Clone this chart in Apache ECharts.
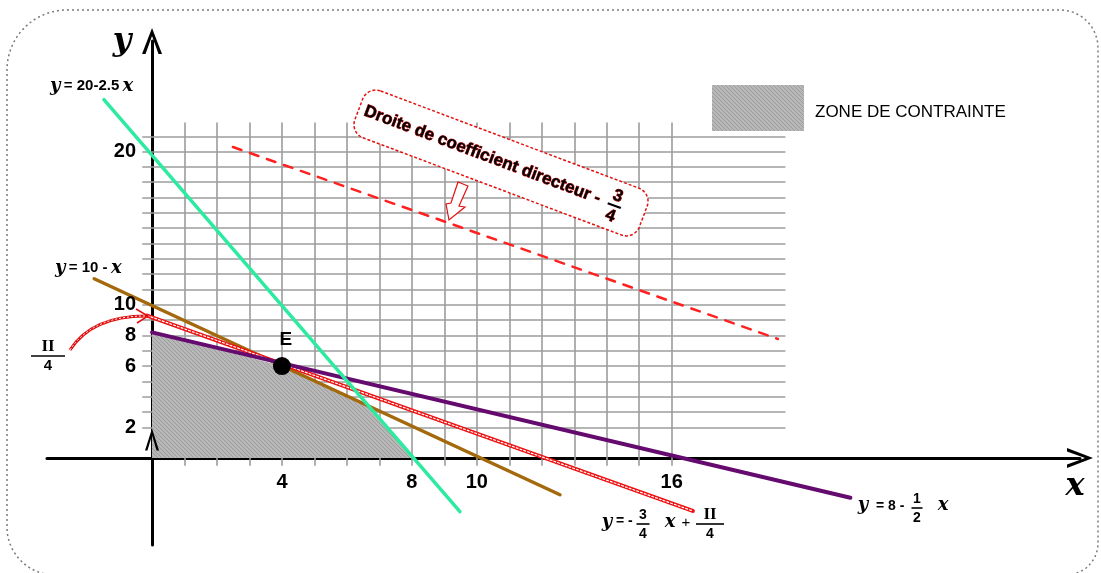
<!DOCTYPE html>
<html>
<head>
<meta charset="utf-8">
<title>Zone de contrainte</title>
<script src="https://cdn.jsdelivr.net/npm/echarts@6/dist/echarts.min.js"></script>
<style>
    html, body { margin: 0; padding: 0; background: #fff; }
    .box1 { width: 1101px; height: 573px; }
</style>
</head>
<body>
<div class="box1"></div>
<script>
// ---------- data ----------
var xTicks = [4, 8, 10, 16];
var yTicks = [20, 10, 8, 6, 2];
var gridXs = [1, 2, 3, 4, 5, 6, 7, 8, 9, 10, 11, 12, 13, 14, 15, 16];
var gridYs = [2, 3, 4, 5, 6, 7, 8, 9, 10, 11, 12, 13, 14, 15, 16, 17, 18, 19, 20, 21];

// segments as drawn (start, end)
var lineGreen = [[-1.48, 23.4], [9.48, -3.5]];    // y = 20 - 2.5x
var lineBrown = [[-1.78, 11.7], [12.56, -2.4]];   // y = 10 - x
var linePurple = [[0, 8.2], [21.5, -2.6]];        // y = 8 - x/2
var lineRed = [[-0.15, 9.3], [16.65, -3.46]];     // y = -3/4 x + II/4
var lineDashed = [[2.49, 20.3], [19.27, 7.77]];   // droite de coefficient -3/4
var zone = [[0, 8.2], [4, 6], [6.67, 3.33], [8, 0]];
var pointE = [[4, 6]];
var smallArrow = [[0, 1.2]];

// ---------- axes extent ----------
var X_MIN = -3.233, X_MAX = 28.57;
var Y_MIN = -5.68, Y_MAX = 27.22;
var GRID_TOP = 21.9, GRID_BOTTOM = -0.5, GRID_LEFT = -0.3, GRID_RIGHT = 19.5;

// hatch pattern for the zone
var pat = document.createElement('canvas');
pat.width = 4; pat.height = 4;
var pc = pat.getContext('2d');
pc.fillStyle = '#b8b8b8';
pc.fillRect(0, 0, 4, 4);
pc.strokeStyle = '#9c9c9c';
pc.lineWidth = 1;
pc.beginPath(); pc.moveTo(0, 0); pc.lineTo(4, 4); pc.stroke();
pc.beginPath(); pc.moveTo(3, -1); pc.lineTo(5, 1); pc.stroke();
pc.beginPath(); pc.moveTo(-1, 3); pc.lineTo(1, 5); pc.stroke();
var hatch = { image: pat, repeat: 'repeat' };

var chevron = 'path://M0,26 L10,0 L20,26 L16.5,26 L10,8 L3.5,26 Z';

var SANS = '"Liberation Sans", Arial, sans-serif';
var SERIF = '"DejaVu Serif", "Liberation Serif", serif';

// helpers for the graphic texts
function txt(x, y, s, font, align) {
    return {
        type: 'text', x: x, y: y, z: 100,
        style: { text: s, font: font, fill: '#000', align: align || 'left', verticalAlign: 'middle' }
    };
}
function frac(cx, cy, num, den, font, w, numFont) {
    return [
        txt(cx, cy - 9, num, numFont || font, 'center'),
        { type: 'line', z: 100, shape: { x1: cx - w / 2, y1: cy, x2: cx + w / 2, y2: cy }, style: { stroke: '#000', lineWidth: 1.6 } },
        txt(cx, cy + 10, den, font, 'center')
    ];
}

var box1 = document.getElementsByClassName('box1')[0];
var MyEcharts1 = echarts.init(box1);

var mathFont = 'italic bold 18px ' + SERIF;
var smallBold = 'bold 13px ' + SANS;
var romanFont = 'bold 17px "Liberation Serif", serif';
var calloutText = {
    font: 'bold 17px ' + SANS, fill: '#000', stroke: '#d00000', lineWidth: 0.8,
    verticalAlign: 'middle'
};

var graphics = [
    // dotted outer frame
    {
        type: 'rect', z: -1,
        shape: { x: 7, y: 10, width: 1091, height: 565, r: [60, 38, 32, 48] },
        style: { fill: 'none', stroke: '#7a7a7a', lineWidth: 1.5, lineDash: [2, 3] }
    },
    // legend
    { type: 'rect', z: 100, shape: { x: 712, y: 85, width: 92, height: 46 }, style: { fill: hatch } },
    txt(815, 112, 'ZONE DE CONTRAINTE', '17px ' + SANS),
    // axis letters
    txt(122, 42, 'y', 'italic bold 32px ' + SERIF, 'center'),
    txt(1075, 487, 'x', 'italic bold 32px ' + SERIF, 'center'),
    // line labels
    {
        type: 'text', x: 50, y: 86, z: 100,
        style: {
            text: '{v|y} {b|= 20-2.5} {v|x}', verticalAlign: 'middle', fill: '#000',
            rich: { v: { font: mathFont, fill: '#000' }, b: { font: 'bold 15px ' + SANS, fill: '#000' } }
        }
    },
    {
        type: 'text', x: 55, y: 268, z: 100,
        style: {
            text: '{v|y} {b|= 10 -} {v|x}', verticalAlign: 'middle', fill: '#000',
            rich: { v: { font: mathFont, fill: '#000' }, b: { font: 'bold 15px ' + SANS, fill: '#000' } }
        }
    },
    txt(863, 505, 'y', mathFont, 'center'),
    txt(876, 506, '= 8 -', 'bold 14px ' + SANS),
    txt(943, 505, 'x', mathFont, 'center'),
    txt(607, 522, 'y', mathFont, 'center'),
    txt(616, 521, '= -', 'bold 14px ' + SANS),
    txt(670, 522, 'x', mathFont, 'center'),
    txt(686, 523, '+', '15px ' + SANS, 'center'),
    // red curved arrow to the y intercept
    {
        type: 'bezierCurve', z: 100,
        shape: { x1: 70, y1: 350, cpx1: 92, cpy1: 316, x2: 146, y2: 316 },
        style: { stroke: '#e41010', lineWidth: 3, fill: 'none' }
    },
    {
        type: 'bezierCurve', z: 101,
        shape: { x1: 70, y1: 350, cpx1: 92, cpy1: 316, x2: 146, y2: 316 },
        style: { stroke: '#fff', lineWidth: 1, lineDash: [2, 2], fill: 'none' }
    },
    {
        type: 'polyline', z: 100,
        shape: { points: [[136, 309], [148, 316], [137, 323]] },
        style: { stroke: '#e41010', lineWidth: 1.5, fill: 'none' }
    },
    // callout pointer
    {
        type: 'polygon', z: 101,
        shape: { points: [[458, 182], [451, 203], [446, 204], [449, 220], [465, 207], [459, 206], [468, 186]] },
        style: { fill: '#fff', stroke: '#e41010', lineWidth: 1.2 }
    },
    // callout box
    {
        type: 'group', x: 501, y: 163, rotation: -0.36, z: 100,
        children: [
            {
                type: 'rect', z: 100,
                shape: { x: -152, y: -25, width: 304, height: 50, r: 14 },
                style: { fill: '#fff', stroke: '#e41010', lineWidth: 1.5, lineDash: [3, 2] }
            },
            { type: 'text', x: -146, y: -1, z: 102, style: Object.assign({ text: 'Droite de coefficient directeur -' }, calloutText) },
            { type: 'text', x: 121, y: -10, z: 102, style: Object.assign({ text: '3', align: 'center' }, calloutText) },
            { type: 'line', z: 102, shape: { x1: 114, y1: 0, x2: 128, y2: 0 }, style: { stroke: '#000', lineWidth: 2.2 } },
            { type: 'text', x: 121, y: 11, z: 102, style: Object.assign({ text: '4', align: 'center' }, calloutText) }
        ]
    }
];
graphics = graphics
    .concat(frac(917, 508, '1', '2', 'bold 14px ' + SANS, 11))
    .concat(frac(643, 524, '3', '4', 'bold 14px ' + SANS, 13))
    .concat(frac(710, 524, 'II', '4', 'bold 14px ' + SANS, 28, romanFont))
    .concat(frac(48, 356, 'II', '4', 'bold 15px ' + SANS, 34, romanFont));

function seg(data, color, width, z, dash) {
    return {
        type: 'line', data: data, symbol: 'none', clip: false, z: z, silent: true,
        lineStyle: { color: color, width: width, type: dash || 'solid', cap: 'round' }
    };
}

var tickLabel = { fontSize: 20, fontWeight: 'bold', fontFamily: SANS, color: '#000' };

var option1 = {
    animation: false,
    backgroundColor: '#fff',
    grid: { left: 47, right: 21, top: 41, bottom: 28 },
    xAxis: {
        type: 'value', min: X_MIN, max: X_MAX,
        axisLine: { onZero: true, symbol: ['none', chevron], symbolSize: [20, 26], lineStyle: { color: '#000', width: 3 } },
        axisTick: { show: false }, axisLabel: { show: false }, splitLine: { show: false }
    },
    yAxis: {
        type: 'value', min: Y_MIN, max: Y_MAX,
        axisLine: { onZero: true, symbol: ['none', chevron], symbolSize: [20, 26], lineStyle: { color: '#000', width: 3 } },
        axisTick: { show: false }, axisLabel: { show: false }, splitLine: { show: false }
    },
    graphic: graphics,
    series: [
        // grid
        {
            type: 'lines', coordinateSystem: 'cartesian2d', z: 1, silent: true,
            lineStyle: { color: '#9c9c9c', width: 1.6, opacity: 1, curveness: 0 },
            data: gridXs.map(function (x) { return { coords: [[x, GRID_BOTTOM], [x, GRID_TOP]] }; })
        },
        {
            type: 'lines', coordinateSystem: 'cartesian2d', z: 1, silent: true,
            lineStyle: { color: '#9c9c9c', width: 1.6, opacity: 1, curveness: 0 },
            data: gridYs.map(function (y) { return { coords: [[GRID_LEFT, y], [GRID_RIGHT, y]] }; })
        },
        // zone de contrainte
        {
            type: 'line', data: zone, symbol: 'none', z: 2, silent: true,
            lineStyle: { width: 0 },
            areaStyle: { color: hatch, opacity: 1 }
        },
        seg(lineDashed, '#ff2020', 2.5, 3, [9, 9]),
        seg(lineBrown, '#a3690c', 3.5, 4),
        seg(lineRed, '#ee1111', 4, 5),
        seg(lineRed, '#ffffff', 1.2, 6, [2, 2]),
        seg(linePurple, '#650a6e', 4, 7),
        seg(lineGreen, '#2ceba0', 3.5, 8),
        // point E
        {
            type: 'scatter', data: pointE, symbolSize: 18, z: 10, silent: true,
            itemStyle: { color: '#000', opacity: 1 },
            label: Object.assign({ show: true, position: 'top', distance: 8, offset: [4, 0], formatter: 'E' }, tickLabel, { fontSize: 19 })
        },
        // little arrowhead on the y axis
        {
            type: 'scatter', data: smallArrow, symbol: chevron, symbolSize: [14, 22], z: 10, silent: true,
            itemStyle: { color: '#000', opacity: 1 }
        },
        // tick labels
        {
            type: 'scatter', symbolSize: 0, z: 10, silent: true,
            itemStyle: { opacity: 1 },
            data: yTicks.map(function (v) { return [0, v]; }),
            label: Object.assign({
                show: true, position: 'left', distance: 16,
                formatter: function (p) { return p.value[1]; }
            }, tickLabel)
        },
        {
            type: 'scatter', symbolSize: 0, z: 10, silent: true,
            itemStyle: { opacity: 1 },
            data: xTicks.map(function (v) { return [v, 0]; }),
            label: Object.assign({
                show: true, position: 'bottom', distance: 14,
                formatter: function (p) { return p.value[0]; }
            }, tickLabel)
        }
    ]
};

MyEcharts1.setOption(option1);
</script>
</body>
</html>
